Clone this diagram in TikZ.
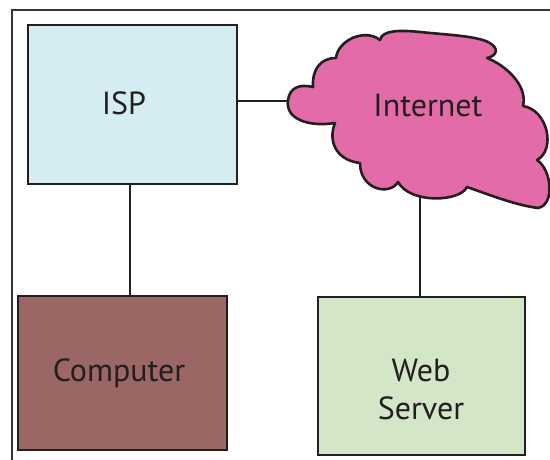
\documentclass[tikz,border=0pt]{standalone}
\usepackage{fontspec}
\setmainfont{PT Sans}
\definecolor{ispfill}{HTML}{D4ECF2}
\definecolor{compfill}{HTML}{9B6764}
\definecolor{webfill}{HTML}{D3E6C7}
\definecolor{cloudfill}{HTML}{E36BA8}
\definecolor{ink}{HTML}{231F20}
\begin{document}
\begin{tikzpicture}[x=1pt,y=1pt,
  box/.style={draw=ink,line width=2.6pt,rectangle,inner sep=0pt},
  lbl/.style={text=ink,font=\fontsize{32}{38}\selectfont,align=center,inner sep=0pt},
  conn/.style={draw=ink,line width=2pt}]
\useasboundingbox (0,0) rectangle (550,460);
% frame
\draw[ink!90,line width=2pt] (12,0) -- (12,450) -- (550,450);
% boxes
\node[box,fill=ispfill,minimum width=209pt,minimum height=159pt] (isp) at (132.5,355.5) {};
\node[box,fill=compfill,minimum width=209pt,minimum height=154pt] (comp) at (122.5,87) {};
\node[box,fill=webfill,minimum width=207pt,minimum height=158pt] (web) at (421.5,84) {};
% cloud
\draw[ink,line width=2.6pt,fill=cloudfill,line join=round]
  (313,373) .. controls (312,390) and (320,402) .. (336,402)
  .. controls (338,420) and (365,432) .. (380,420)
  .. controls (382,430) and (400,430) .. (420,428)
  .. controls (450,425) and (475,424) .. (488,418)
  .. controls (500,412) and (497,404) .. (487,402)
  .. controls (505,395) and (528,375) .. (523,354)
  .. controls (548,350) and (556,310) .. (537,300)
  .. controls (552,290) and (555,255) .. (538,252)
  .. controls (515,255) and (490,265) .. (467,273)
  .. controls (460,258) and (410,256) .. (398,278)
  .. controls (390,264) and (360,270) .. (360,297)
  .. controls (335,300) and (328,320) .. (335,337)
  .. controls (310,333) and (285,340) .. (288,360)
  .. controls (290,373) and (300,376) .. (313,373) -- cycle;
\coordinate (cloudL) at (289,359);
\coordinate (cloudB) at (420,264);
\node[lbl] (inet) at (428,355) {Internet};
% labels
\node[lbl] (ispl) at (124,357) {ISP};
\node[lbl] (compl) at (119,87) {Computer};
\node[lbl] (webl) at (421,71) {Web\\Server};
% connectors
\draw[conn] (isp.east |- cloudL) -- (cloudL);
\draw[conn] ([xshift=-2.5pt]isp.south) -- ([xshift=7.5pt]comp.north);
\draw[conn] (cloudB) -- (cloudB |- web.north);
\end{tikzpicture}
\end{document}
